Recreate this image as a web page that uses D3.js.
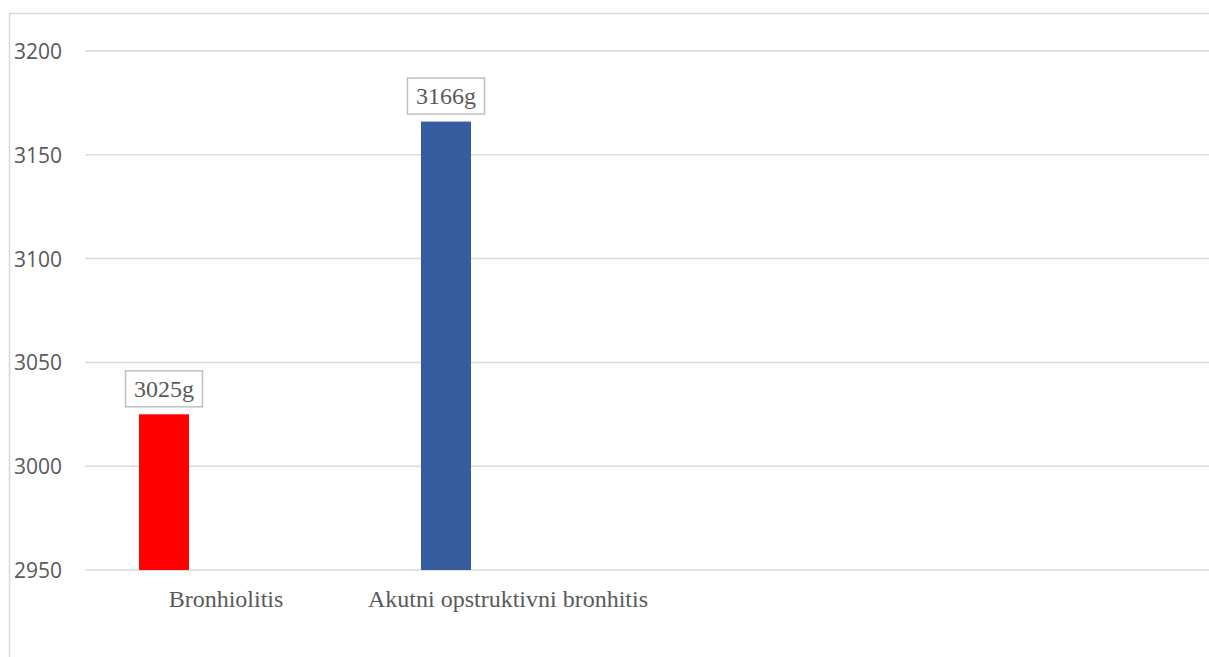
<!DOCTYPE html>
<html>
<head>
<meta charset="utf-8">
<script src="https://cdn.jsdelivr.net/npm/d3@7"></script>
<style>
  html, body { margin: 0; padding: 0; background: #ffffff; }
  svg { display: block; }
</style>
</head>
<body>
<svg id="chart" width="1209" height="657"></svg>
<script>
// ---- data ----
const categories = ["Bronhiolitis", "Akutni opstruktivni bronhitis"];
const values = [3025, 3166];
const valueLabels = ["3025g", "3166g"];
const yTicks = [2950, 3000, 3050, 3100, 3150, 3200];

// ---- styling ----
const barColors = ["#FF0000", "#355C9E"];
const W = 1209, H = 657;
const plotLeft = 85, plotRight = 1209;
const svg = d3.select("#chart");

// frame
svg.append("rect")
  .attr("x", 9.5).attr("y", 13.5)
  .attr("width", 1400).attr("height", 800)
  .attr("fill", "none")
  .attr("stroke", "#d9d9d9")
  .attr("stroke-width", 1.5);

const y = d3.scaleLinear().domain([2950, 3200]).range([570, 51]);
const x = d3.scaleBand().domain(categories).range([plotLeft, plotLeft + 282 * categories.length]).padding(0);
const bw = x.bandwidth();

// gridlines
svg.append("g").selectAll("line").data(yTicks).join("line")
  .attr("x1", plotLeft).attr("x2", plotRight)
  .attr("y1", d => y(d)).attr("y2", d => y(d))
  .attr("stroke", "#d9d9d9").attr("stroke-width", 1.5);

// y labels
svg.append("g").selectAll("text").data(yTicks).join("text")
  .attr("x", 62).attr("y", d => y(d) + 8)
  .attr("text-anchor", "end")
  .attr("font-family", "'Open Sans', sans-serif")
  .attr("font-size", 21)
  .attr("fill", "#595959")
  .text(d => d);

// bars
const barX = c => x(c) + bw * 54 / 282;
const barW = bw * 50 / 282;
svg.append("g").selectAll("rect").data(categories).join("rect")
  .attr("x", c => barX(c))
  .attr("width", barW)
  .attr("y", (c, i) => y(values[i]))
  .attr("height", (c, i) => y(2950) - y(values[i]))
  .attr("fill", (c, i) => barColors[i]);

// data labels with boxes
const lg = svg.append("g").selectAll("g").data(categories).join("g");
lg.append("rect")
  .attr("x", c => barX(c) + barW / 2 - 38.5)
  .attr("y", (c, i) => y(values[i]) - 7.5 - 36)
  .attr("width", 77).attr("height", 36)
  .attr("fill", "#ffffff")
  .attr("stroke", "#bfbfbf").attr("stroke-width", 1.5);
lg.append("text")
  .attr("x", c => barX(c) + barW / 2)
  .attr("y", (c, i) => y(values[i]) - 17.5)
  .attr("text-anchor", "middle")
  .attr("font-family", "'Liberation Serif', 'Times New Roman', serif")
  .attr("font-size", 24)
  .attr("fill", "#595959")
  .text((c, i) => valueLabels[i]);

// category labels
svg.append("g").selectAll("text").data(categories).join("text")
  .attr("x", c => x(c) + bw / 2)
  .attr("y", 607)
  .attr("text-anchor", "middle")
  .attr("font-family", "'Liberation Serif', 'Times New Roman', serif")
  .attr("font-size", 24)
  .attr("fill", "#595959")
  .text(c => c);
</script>
</body>
</html>
